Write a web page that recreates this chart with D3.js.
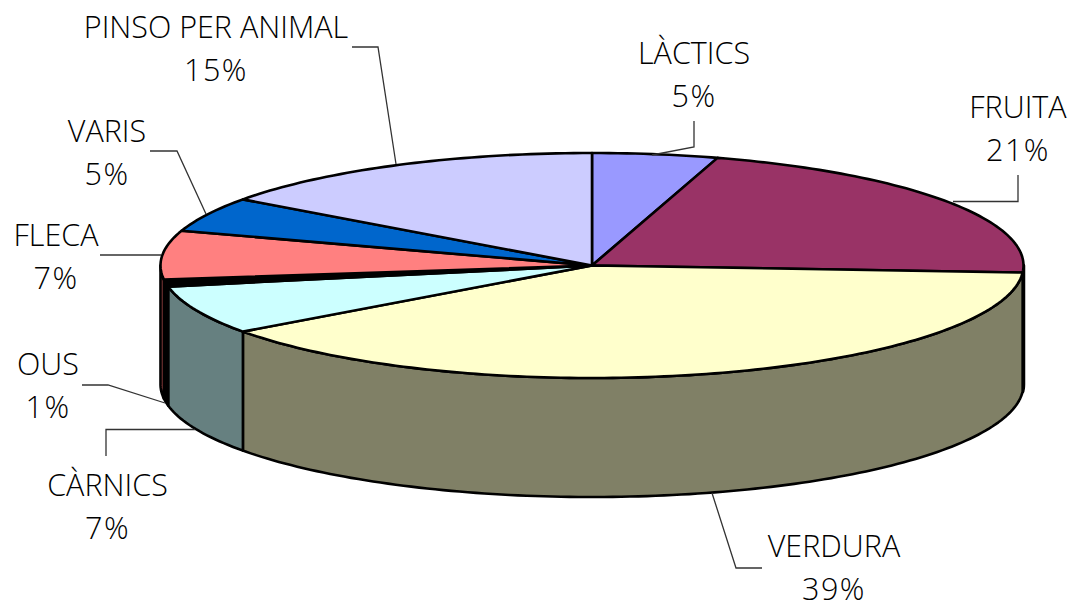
<!DOCTYPE html>
<html>
<head>
<meta charset="utf-8">
<script src="https://cdn.jsdelivr.net/npm/d3@7"></script>
<style>
    html, body { margin: 0; background: white; }
    svg { display: block; }
    text { font-family: "Open Sans", sans-serif; font-weight: 300; font-size: 30.5px; fill: black; }
    .pct { letter-spacing: 1.5px; }
</style>
</head>
<body>
<script>
const categories = ["LÀCTICS", "FRUITA", "VERDURA", "CÀRNICS", "OUS", "FLECA", "VARIS", "PINSO PER ANIMAL"];
const percentLabels = ["5%", "21%", "39%", "7%", "1%", "7%", "5%", "15%"];
// slice sizes as drawn, read from the rim (the labels are rounded)
const shares = [4.7, 21.3, 39, 7, 1, 7, 5, 15];
const topColors = ["#9999FF", "#993366", "#FFFFCC", "#CCFFFF", "#000000", "#FF8080", "#0066CC", "#CCCCFF"];
const sideColors = ["#4C4C80", "#000000", "#808066", "#668080", "#000000", "#994444", "#003366", "#666680"];

// label centres and baselines, px
const labelX = [694, 1018, 834, 107.5, 48, 56, 107, 216];
const labelY = [64, 118, 557, 496, 375, 246, 142, 38];
const lineGap = 43;
// leader polylines, px
const leaders = [
    [[694, 121], [694, 147], [652, 155]],
    [[1018, 175], [1018, 201.5], [953, 201.5]],
    [[762, 568], [736, 568], [712, 493]],
    [[106, 456], [106, 429.5], [195, 429.5]],
    [[82, 385], [108, 385], [165, 403]],
    [[100, 255], [161, 255]],
    [[150, 151], [177, 151], [206, 214]],
    [[352, 47], [378, 47], [396, 164]]
];

const width = 1072, height = 603;
const cx = 592, cy = 265.5, rx = 431.5, ry = 112.5, depth = 119;

const svg = d3.select("body").append("svg")
    .attr("width", width)
    .attr("height", height);

const arcs = d3.pie().sort(null).value(d => d)(shares);

// scale the unit circle to the tilted ellipse
const xs = d3.scaleLinear().domain([-1, 1]).range([cx - rx, cx + rx]);
const ys = d3.scaleLinear().domain([-1, 1]).range([cy - ry, cy + ry]);
const px = a => xs(Math.sin(a));
const py = a => ys(-Math.cos(a));

const rimAngles = (a0, a1) => d3.range(a0, a1, 0.02).concat([a1]);
const line = d3.line();

// walls only show on the front half of the ellipse
const front0 = Math.PI / 2, front1 = Math.PI * 1.5;
arcs.forEach((d, i) => {
    const a0 = Math.max(d.startAngle, front0), a1 = Math.min(d.endAngle, front1);
    if (a0 >= a1) return;
    const rim = rimAngles(a0, a1);
    const pts = rim.map(a => [px(a), py(a)])
        .concat(rim.slice().reverse().map(a => [px(a), py(a) + depth]));
    svg.append("path")
        .attr("d", line(pts) + "Z")
        .attr("fill", sideColors[i])
        .attr("stroke", "black")
        .attr("stroke-width", i === 1 ? 3.5 : 2.6) // fruita wall is just a thick black edge
        .attr("stroke-linejoin", "round");
});

// top of the pie
arcs.forEach((d, i) => {
    const pts = [[cx, cy]].concat(rimAngles(d.startAngle, d.endAngle).map(a => [px(a), py(a)]));
    svg.append("path")
        .attr("d", line(pts) + "Z")
        .attr("fill", topColors[i])
        .attr("stroke", "black")
        .attr("stroke-width", 2.6)
        .attr("stroke-linejoin", "round");
});

// leader lines
leaders.forEach(l => {
    svg.append("path")
        .attr("d", line(l))
        .attr("fill", "none")
        .attr("stroke", "#333")
        .attr("stroke-width", 1.3);
});

// labels
categories.forEach((c, i) => {
    const t = svg.append("text").attr("text-anchor", "middle");
    t.append("tspan").attr("x", labelX[i]).attr("y", labelY[i]).text(c);
    t.append("tspan").attr("class", "pct").attr("x", labelX[i]).attr("y", labelY[i] + lineGap).text(percentLabels[i]);
});
</script>
</body>
</html>
